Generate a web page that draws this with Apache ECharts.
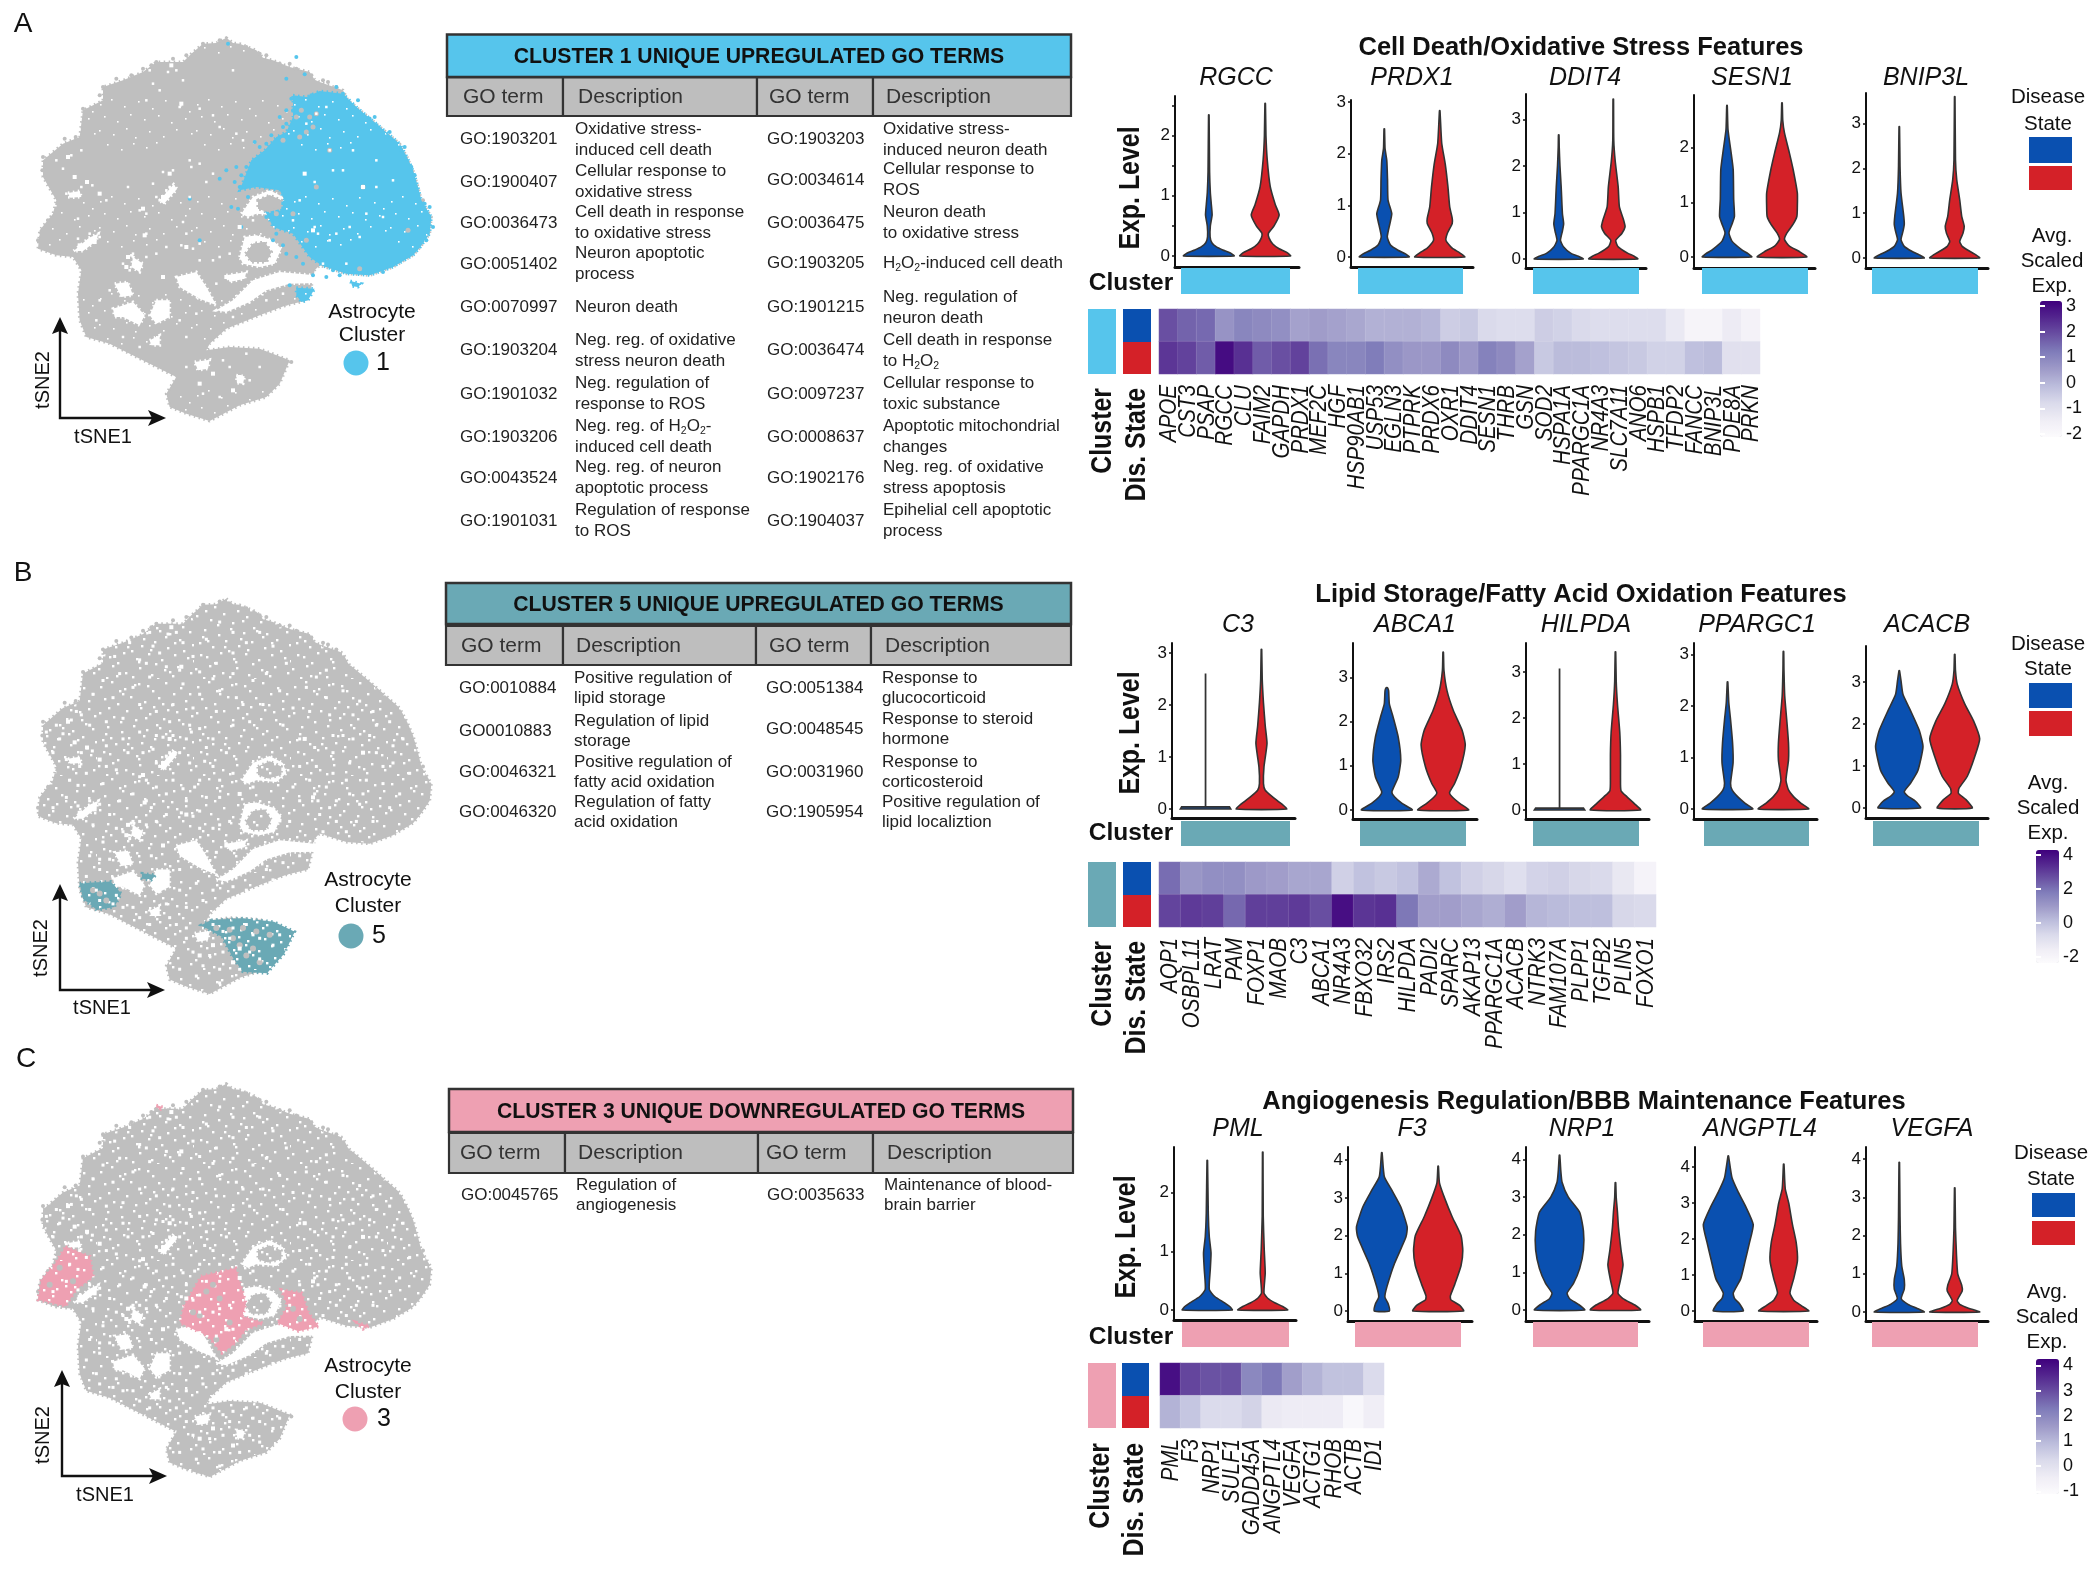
<!DOCTYPE html>
<html><head><meta charset="utf-8">
<style>html,body{margin:0;padding:0;background:#fff}#c{width:2100px;height:1571px}</style>
<script src="https://cdn.jsdelivr.net/npm/echarts@6/dist/echarts.min.js"></script>
</head><body><div id="c"></div>
<script>
/* ---------- colours ---------- */
const CYAN='#56c5ec',TEAL='#6aa9b5',PINK='#eea0b2',GRAY='#bfbfbf',BLUE='#0a50b0',RED='#d42128';
const PURPLES=['#fcfbfd','#efedf5','#dadaeb','#bcbddc','#9e9ac8','#807dba','#6a51a3','#54278f','#3f007d'];

/* ---------- tSNE shape, in tSNE plot units ---------- */
const tsneOutline=[[680,112],[700,128],[720,130],[770,150],[790,172],[820,180],[870,200],[930,215],[945,238],[960,245],[1030,270],[1045,300],[1070,320],[1130,370],[1165,400],[1200,430],[1222,470],[1240,510],[1255,560],[1265,600],[1295,650],[1290,700],[1262,740],[1240,765],[1180,800],[1110,825],[1040,820],[960,795],[945,810],[935,860],[925,900],[860,915],[780,945],[680,985],[630,1030],[620,1050],[690,1040],[780,1045],[870,1080],[840,1150],[800,1190],[720,1215],[630,1262],[560,1240],[510,1220],[500,1180],[530,1130],[470,1100],[420,1075],[330,1030],[260,1010],[240,960],[235,880],[245,810],[220,770],[170,765],[115,745],[120,690],[160,640],[170,600],[130,530],[130,480],[190,430],[240,410],[250,330],[310,300],[310,260],[370,240],[430,215],[470,185],[550,185],[575,160],[610,130],[650,128]];
const tsneHoles=[
 [[725,640],[760,590],[810,570],[850,590],[860,620],[830,645],[770,640],[745,650]],
 [[720,770],[735,710],[770,705],[820,720],[845,745],[825,790],[780,800],[730,790]],
 [[650,930],[700,900],[760,840],[840,815],[945,825],[950,848],[870,850],[800,870],[750,905],[680,935]],
 [[530,830],[590,815],[620,860],[650,915],[600,895],[540,860]],
 [[470,900],[510,900],[510,950],[470,970],[450,945]],
 [[340,925],[400,905],[435,945],[420,975],[370,950],[345,950]],
 [[345,850],[385,845],[400,885],[365,890]],
 [[450,1020],[480,1005],[480,1035],[455,1035]],
 [[585,1085],[630,1078],[625,1105],[595,1110]],
 [[480,600],[522,552],[532,566],[492,612]],
 [[222,752],[268,712],[296,700],[290,722],[250,752]],
 [[205,578],[240,572],[245,590],[212,592]],
 [[710,1125],[735,1128],[730,1150],[712,1148]],
 [[400,770],[430,790],[420,815],[395,800]],
 [[680,825],[740,815],[735,835],[690,845]]
];
const tsneIslands=[
 [[775,600],[810,585],[845,600],[845,625],[805,635],[775,625]],
 [[738,760],[760,730],[795,725],[815,755],[800,785],[755,785]]
];
const edgeDots=[[610,130],[660,120],[740,140],[780,160],[840,190],[890,205],[935,225],[985,245],[1010,260],[430,205],[470,185],[505,190],[350,235],[310,260],[250,325],[195,415],[130,470],[128,510],[145,660],[115,720],[560,165],[585,170],[860,910],[875,1085],[1270,600],[228,410],[300,285],[395,225],[455,195],[520,175],[675,108],[800,165],[870,190],[970,240]];
const specksLarge=[[205,470],[225,530],[262,545],[490,590],[510,520],[435,705],[385,770],[240,735],[285,725],[300,580],[515,195],[545,310],[430,625],[940,690],[915,520],[1090,560],[720,680],[560,740],[680,830],[490,830],[380,800],[600,1150],[640,1120],[720,1130],[700,1170]];
const specksSmall=[[170,480],[190,505],[215,465],[245,450],[245,560],[278,555],[200,580],[235,655],[320,600],[385,560],[440,640],[420,630],[235,715],[270,700],[300,710],[395,765],[440,700],[570,480],[575,500],[490,515],[520,510],[510,560],[480,600],[500,570],[460,550],[470,590],[540,320],[550,240],[530,210],[505,215],[450,210],[440,300],[460,250],[480,270],[600,325],[640,345],[660,380],[700,210],[710,400],[730,420],[600,490],[640,520],[620,545],[570,590],[550,665],[560,700],[600,730],[580,745],[545,735],[500,740],[470,760],[440,770],[400,760],[390,810],[370,790],[600,780],[640,780],[660,770],[690,760],[700,830],[650,850],[760,660],[945,680],[955,700],[945,545],[990,450],[1000,510],[1030,510],[1060,450],[1130,560],[1100,640],[1050,680],[1080,710],[1010,700],[990,720],[1040,790],[970,790],[900,600],[880,660],[1150,650],[1180,540],[1130,480],[950,340],[920,370],[980,320],[560,1100],[670,1080],[740,1060],[780,1100],[690,1100],[610,1180],[660,1190],[750,1140],[330,870],[300,900],[290,960],[370,1010],[420,1040],[540,960],[590,940],[560,1010],[700,950],[800,900],[850,880]];
const specksExtra=[[300,240],[345,280],[390,240],[420,290],[360,330],[310,350],[280,390],[340,400],[400,370],[450,340],[500,310],[580,280],[620,230],[660,180],[700,270],[740,240],[780,210],[820,250],[860,300],[800,330],[760,350],[700,330],[650,300],[600,390],[550,360],[520,420],[470,440],[420,420],[370,460],[320,470],[270,480],[230,440],[180,520],[160,560],[210,640],[260,620],[310,650],[350,610],[400,680],[360,700],[330,740],[280,770],[310,820],[270,860],[260,920],[300,990],[350,975],[400,1010],[450,1060],[510,1040],[560,1070],[610,990],[640,960],[600,840],[660,690],[700,620],[680,560],[640,600],[600,640],[620,690],[520,640],[470,660],[430,560],[540,560],[580,430],[650,440],[700,480],[750,470],[790,420],[840,380],[880,430],[930,440],[980,400],[1030,380],[1080,410],[1120,440],[1170,470],[1210,520],[1180,590],[1230,620],[1200,680],[1170,720],[1120,760],[1070,760],[1010,760],[960,740],[900,700],[870,760],[860,830],[900,860],[820,930],[740,960],[690,1000],[640,1060],[700,1070],[760,1090],[820,1120],[780,1160],[720,1190],[660,1230],[590,1210],[540,1190],[580,1140],[630,1150],[670,1140],[840,1090],[1000,620],[1050,590],[950,600],[900,520],[850,480],[1000,560],[1060,520],[1110,510],[1150,600],[1090,680],[1040,640],[980,660],[930,640],[320,540],[370,520],[420,500],[470,510],[240,600],[200,690],[160,720],[140,500],[510,470],[560,520],[615,585],[660,640],[585,660],[500,680],[455,720],[420,760],[350,780],[300,870],[340,1000],[455,860],[540,900],[500,1000],[530,1060]];
/* fine grain of the point cloud: typed gaps inside one repeating patch */
const grainGaps=[[3,7],[14,2],[27,9],[41,4],[55,11],[68,3],[83,8],[92,14],[7,19],[20,24],[33,17],[47,22],[61,18],[74,25],[88,21],[2,33],[16,37],[29,31],[38,40],[52,34],[66,39],[79,32],[94,36],[10,47],[24,52],[36,46],[49,50],[59,45],[72,51],[85,44],[5,60],[18,64],[31,58],[44,63],[57,59],[70,65],[82,57],[95,62],[12,74],[26,70],[39,76],[51,71],[64,77],[77,72],[90,75],[1,86],[15,83],[28,90],[42,85],[54,92],[67,87],[80,84],[93,90],[9,95],[35,94],[60,96],[75,93],[22,11],[50,6],[76,14],[11,28],[43,28],[70,30],[88,29],[23,42],[62,48],[92,49],[8,54],[46,56],[77,60],[34,68],[20,80],[58,81],[86,68],[37,5],[65,24],[48,38],[30,64],[6,72],[72,89],[19,93],[53,67],[84,97],[96,78],[41,79],[25,14],[81,40],[56,27],[13,58],[68,54]];
const cyanMain=[[880,285],[920,290],[960,272],[1030,280],[1070,320],[1130,370],[1165,400],[1200,430],[1222,470],[1240,510],[1255,560],[1265,600],[1295,650],[1290,700],[1262,740],[1240,765],[1180,800],[1110,825],[1040,820],[965,795],[930,770],[880,700],[820,680],[795,630],[855,600],[840,570],[770,560],[720,570],[755,480],[795,450],[830,410],[860,395],[880,350]];
const cyanSmall=[[890,862],[945,865],[925,900],[905,905],[890,885]];
const cyanSmall2=[[1052,842],[1085,850],[1075,860],[1058,858]];
const cyanDots=[[685,130],[890,170],[860,235],[915,222],[1010,260],[1030,280],[1110,355],[1130,375],[1205,450],[1235,500],[1290,620],[1300,680],[710,500],[680,510],[720,560],[695,620],[715,625],[660,535],[780,440],[815,405],[860,370],[840,350],[880,330],[600,720],[570,595],[725,680],[830,700],[860,760],[870,855],[940,825],[980,830],[740,500],[725,525],[705,545],[745,590],[800,650],[835,650],[820,720],[850,735],[890,770],[910,790],[800,430],[765,425],[850,380],[905,300],[875,295],[860,330],[935,285],[1075,300],[1125,350],[1170,395],[1215,440],[1245,525],[1275,610],[1280,720],[1000,810],[1020,825],[1150,815]];
const grayInCyan=[[950,340],[920,395],[990,450],[1090,560],[1225,690],[950,560],[1080,805],[920,720],[880,640],[830,640],[890,350],[905,330],[930,350],[940,380],[900,410],[850,420]];
const tealPatches=[[[240,940],[333,935],[365,970],[344,1009],[292,1018],[250,985]],[[635,1047],[729,1042],[823,1052],[885,1081],[854,1144],[802,1202],[729,1197],[698,1154],[667,1096],[604,1062]],[[427,911],[469,916],[454,931],[427,926]]];
const tealGaps=[[700,1100],[720,1120],[690,1075],[650,1070],[740,1150],[760,1130],[300,970],[280,960],[320,990],[780,1170],[810,1090],[770,1080],[730,1070]];
const pinkPatches=[[[198,588],[271,617],[281,676],[229,715],[198,763],[115,744],[125,685],[167,637]],[[604,675],[708,651],[739,753],[729,792],[792,812],[739,831],[708,870],[667,900],[625,851],[542,812],[552,763]],[[844,714],[906,724],[927,783],[958,822],[896,836],[833,812],[864,763]],[[1070,810],[1110,820],[1090,830]],[[470,175],[490,180],[480,190]]];
const pinkGaps=[[620,720],[660,740],[600,790],[690,810],[650,860],[180,650],[220,690],[150,700],[880,770],[900,800],[640,700],[580,780]];

/* ---------- violin profiles: [expression level, relative width] ---------- */
const vRGCC=[[[0,1],[.05,.85],[.1,.55],[.15,.3],[.22,.12],[.32,.05],[.5,.06],[.68,.13],[.85,.1],[1.05,.06],[1.4,.03],[2.34,.01]],[[0,1],[.06,.85],[.12,.55],[.2,.3],[.3,.15],[.38,.13],[.5,.35],[.68,.55],[.85,.4],[1.15,.2],[1.6,.08],[2,.03],[2.53,.01]]];
const vPRDX1=[[[0,1],[.06,.85],[.13,.55],[.23,.25],[.39,.12],[.7,.25],[.84,.3],[1.1,.15],[1.5,.13],[1.87,.1],[2.1,.03],[2.48,.01]],[[0,1],[.08,.8],[.17,.5],[.32,.25],[.45,.3],[.65,.5],[.75,.5],[.97,.4],[1.35,.33],[1.8,.22],[2.2,.08],[2.83,.01]]];
const vDDIT4=[[[0,1],[.06,.8],[.12,.5],[.26,.2],[.4,.07],[.6,.15],[.76,.2],[.98,.15],[1.55,.1],[2,.05],[2.4,.02],[2.67,.01]],[[0,1],[.06,.85],[.12,.6],[.26,.2],[.4,.1],[.55,.35],[.69,.48],[.84,.42],[1.12,.25],[1.55,.2],[2.1,.08],[2.55,.02],[3.44,.01]]];
const vSESN1=[[[0,1],[.06,.85],[.13,.6],[.29,.2],[.44,.08],[.6,.2],[.74,.3],[1.05,.27],[1.6,.25],[1.96,.15],[2.33,.04],[2.77,.01]],[[0,1],[.1,.7],[.2,.3],[.32,.1],[.44,.2],[.6,.45],[.74,.6],[.93,.62],[1.17,.62],[1.6,.45],[1.9,.3],[2.27,.1],[2.5,.03],[2.82,.01]]];
const vBNIP3L=[[[0,1],[.07,.8],[.15,.5],[.26,.2],[.41,.07],[.6,.15],[.75,.2],[.93,.18],[1.45,.07],[2.05,.03],[2.93,.01]],[[0,1],[.07,.85],[.15,.6],[.26,.3],[.37,.2],[.55,.33],[.71,.38],[.93,.28],[1.3,.2],[1.75,.08],[2.2,.03],[3.6,.01]]];
const vC3=[[[0,1],[.04,.95],[.045,.003],[2.59,.003]],[[0,1],[.1,.8],[.23,.45],[.36,.15],[.49,.08],[.81,.1],[1.26,.22],[1.6,.15],[2.04,.08],[2.5,.03],[3.07,.01]]];
const vABCA1=[[[0,1],[.15,.6],[.3,.3],[.41,.2],[.75,.45],[1.13,.55],[1.65,.45],[2.1,.25],[2.4,.1],[2.7,.07],[2.77,.02]],[[0,1],[.15,.65],[.3,.35],[.39,.25],[.6,.45],[.98,.7],[1.47,.87],[1.8,.75],[2.25,.4],[2.7,.15],[3.16,.03],[3.57,.01]]];
const vHILPDA=[[[0,1],[.04,.95],[.045,.003],[3.06,.003]],[[0,1],[.14,.75],[.29,.45],[.42,.22],[.7,.2],[1.2,.2],[1.7,.17],[2.3,.08],[2.8,.03],[3.44,.01]]];
const vPPARGC1=[[[0,1],[.11,.7],[.24,.4],[.37,.18],[.5,.12],[.9,.22],[1.28,.2],[1.73,.12],[2.06,.05],[2.47,.01]],[[0,1],[.11,.7],[.24,.4],[.37,.2],[.56,.1],[.95,.2],[1.28,.2],[1.73,.13],[2.2,.05],[2.7,.02],[3.06,.01]]];
const vACACB=[[[0,.85],[.16,.65],[.28,.35],[.39,.2],[.59,.45],[.9,.75],[1.46,.95],[1.85,.8],[2.32,.45],[2.7,.15],[3.03,.07],[3.27,.01]],[[0,.7],[.2,.45],[.35,.15],[.47,.17],[.75,.5],[1.22,.8],[1.65,1],[2.08,.75],[2.48,.4],[2.95,.1],[3.27,.03],[3.66,.01]]];
const vPML=[[[0,1],[.06,.9],[.12,.7],[.23,.3],[.35,.08],[.69,.12],[.97,.15],[1.25,.08],[1.65,.04],[2.55,.01]],[[0,1],[.06,.8],[.12,.5],[.2,.2],[.29,.05],[.63,.1],[1.03,.06],[1.6,.02],[2.69,.01]]];
const vF3=[[[0,.3],[.19,.25],[.37,.12],[.64,.2],[1.26,.5],[1.96,.95],[2.23,1],[2.76,.75],[3.2,.4],[3.56,.1],[4.2,.01]],[[0,1],[.15,.85],[.3,.5],[.4,.48],[.7,.65],[1.2,.9],[1.6,.97],[2,.9],[2.5,.55],[3,.25],[3.4,.05],[3.84,.01]]];
const vNRP1=[[[0,1],[.15,.75],[.3,.4],[.45,.3],[.7,.55],[1.1,.8],[1.6,.95],[2.1,.95],[2.6,.8],[3,.35],[3.4,.1],[3.7,.05],[4.12,.01]],[[0,1],[.12,.8],[.3,.3],[.45,.1],[.8,.2],[1.2,.3],[1.6,.22],[2.2,.12],[2.6,.08],[3,.03],[3.39,.01]]];
const vANGPTL4=[[[0,.6],[.2,.45],[.35,.25],[.5,.2],[.9,.5],[1.4,.68],[1.9,.85],[2.4,1],[2.9,.7],[3.3,.4],[3.7,.15],[4.31,.01]],[[0,1],[.15,.7],[.3,.4],[.5,.25],[.9,.4],[1.4,.55],[1.9,.5],[2.4,.35],[3,.2],[3.4,.06],[4.08,.01]]];
const vVEGFA=[[[0,1],[.1,.7],[.2,.35],[.35,.08],[.6,.2],[.85,.2],[1.2,.1],[1.8,.05],[2.5,.03],[3.92,.01]],[[0,1],[.1,.55],[.2,.2],[.3,.1],[.55,.3],[.7,.28],[1,.12],[1.5,.07],[2.2,.03],[3.25,.01]]];

/* ---------- heatmaps ---------- */
const genes1=['APOE','CST3','PSAP','RGCC','CLU','FAIM2','GAPDH','PRDX1','MEF2C','HGF','HSP90AB1','USP53','EGLN3','PTPRK','PRDX6','OXR1','DDIT4','SESN1','THRB','GSN','SOD2','HSPA1A','PPARGC1A','NR4A3','SLC7A11','ANO6','HSPB1','TFDP2','FANCC','BNIP3L','PDE8A','PRKN'];
const heat1Top=[1.9,1.6,1.5,.7,1,.9,.8,.4,.5,.4,.3,.1,.1,.1,0,-.5,-.4,-.8,-.9,-.9,-.5,-.6,-.8,-.9,-.9,-.9,-.9,-1.3,-1.8,-1.8,-1.4,-1.7];
const heat1Bot=[2.3,2.1,1.7,3,2.4,1.7,1.9,2.1,1.4,1,1,1.2,.8,.6,.6,.9,.6,1.1,.9,.4,-.4,-.1,-.1,-.2,-.3,-.4,-.6,-.6,-.2,-.1,-1,-1];
const genes5=['AQP1','OSBPL11','LRAT','PAM','FOXP1','MAOB','C3','ABCA1','NR4A3','FBXO32','IRS2','HILPDA','PADI2','SPARC','AKAP13','PPARGC1A','ACACB','NTRK3','FAM107A','PLPP1','TGFB2','PLIN5','FOXO1'];
const heat5Top=[2.1,1.1,1.3,1.3,1,.9,.7,.7,-.4,0,-.2,0,.6,0,-.4,-.6,-.9,-.5,-.4,-.6,-.7,-1.3,-1.9];
const heat5Bot=[2.9,3.1,3,2.2,3,3,3.1,2.7,4,3.2,3.3,1.9,.9,.9,.7,.5,.9,.3,.2,.1,.1,-.6,-.7];
const genes3=['PML','F3','NRP1','SULF1','GADD45A','ANGPTL4','VEGFA','ACTG1','RHOB','ACTB','ID1'];
const heat3Top=[4,3.1,2.9,2.9,2,2.3,1.5,1.1,.8,.8,.2];
const heat3Bot=[1.1,.7,.2,.2,.4,-.3,-.4,-.4,-.4,-.9,-.5];
const diseaseStates=['State 1','State 2'];

/* ---------- GO term tables ---------- */
const go1=[['GO:1903201','Oxidative stress-\ninduced cell death','GO:1903203','Oxidative stress-\ninduced neuron death'],['GO:1900407','Cellular response to\noxidative stress','GO:0034614','Cellular response to\nROS'],['GO:0036473','Cell death in response\nto oxidative stress','GO:0036475','Neuron death\nto oxidative stress'],['GO:0051402','Neuron apoptotic\nprocess','GO:1903205','H{s|2}O{s|2}-induced cell death'],['GO:0070997','Neuron death','GO:1901215','Neg. regulation of\nneuron death'],['GO:1903204','Neg. reg. of oxidative\nstress neuron death','GO:0036474','Cell death in response\nto H{s|2}O{s|2}'],['GO:1901032','Neg. regulation of\nresponse to ROS','GO:0097237','Cellular response to\ntoxic substance'],['GO:1903206','Neg. reg. of H{s|2}O{s|2}-\ninduced cell death','GO:0008637','Apoptotic mitochondrial\nchanges'],['GO:0043524','Neg. reg. of neuron\napoptotic process','GO:1902176','Neg. reg. of oxidative\nstress apoptosis'],['GO:1901031','Regulation of response\nto ROS','GO:1904037','Epihelial cell apoptotic\nprocess']];
const go5=[['GO:0010884','Positive regulation of\nlipid storage','GO:0051384','Response to\nglucocorticoid'],['GO0010883','Regulation of lipid\nstorage','GO:0048545','Response to steroid\nhormone'],['GO:0046321','Positive regulation of\nfatty acid oxidation','GO:0031960','Response to\ncorticosteroid'],['GO:0046320','Regulation of fatty\nacid oxidation','GO:1905954','Positive regulation of\nlipid localiztion']];
const go3=[['GO:0045765','Regulation of\nangiogenesis','GO:0035633','Maintenance of blood-\nbrain barrier']];

/* ---------- builders ---------- */
const grid=[],xAxis=[],yAxis=[],series=[],visualMap=[],G=[];
const FONT='Liberation Sans';
function T(x,y,text,o={}){
  G.push({type:'text',x,y,rotation:o.rot||0,scaleX:o.sx||1,z:50,silent:true,style:{text,fontFamily:o.fam||FONT,fontSize:o.size||16,fontWeight:o.weight||'normal',fontStyle:o.italic?'italic':'normal',fill:o.fill||'#111',textAlign:o.align||'center',textVerticalAlign:'middle',lineHeight:o.lh,rich:o.rich}});
}
function R(x0,y0,x1,y1,fill,stroke,lw){G.push({type:'rect',z:40,silent:true,shape:{x:x0,y:y0,width:x1-x0,height:y1-y0},style:{fill,stroke:stroke||null,lineWidth:lw||0}});}
function addGrid(l,t,r,b,x,y){
  const i=grid.length;
  grid.push({left:l,top:t,width:r-l,height:b-t,containLabel:false,show:false});
  xAxis.push(Object.assign({gridIndex:i},x));yAxis.push(Object.assign({gridIndex:i},y));
  return i;
}
const hidden=(min,max,inv)=>({type:'value',show:false,min,max,inverse:!!inv,splitLine:{show:false}});

/* texture tiles for the point clouds */
function tile(color,size,count){
  const c=document.createElement('canvas');c.width=c.height=97;
  const x=c.getContext('2d');x.fillStyle=color;x.fillRect(0,0,97,97);x.fillStyle='#fff';
  grainGaps.slice(0,count).forEach(p=>x.fillRect(p[0],p[1],size,size));
  return {image:c,repeat:'repeat'};
}
/* tSNE */
function polySeries(g,polys,color,z,fill){
  series.push({type:'custom',xAxisIndex:g,yAxisIndex:g,z,silent:true,clip:false,animation:false,data:polys.map(p=>p[0]),
    renderItem:(params,api)=>({type:'polygon',shape:{points:polys[params.dataIndex].map(p=>api.coord(p))},style:{fill:fill||color,stroke:color,lineWidth:3,lineDash:[1.5,3.5]}})});
}
function dots(g,data,color,size,z,symbol){series.push({type:'scatter',xAxisIndex:g,yAxisIndex:g,z,silent:true,animation:false,symbol:symbol||'circle',symbolSize:size,itemStyle:{color,opacity:1},data});}
function tsne(rect,extra,cfg){
  const g=addGrid(rect[0],rect[1],rect[2],rect[3],hidden(115,1300),hidden(110,1265,true));
  const baseFill=extra?tile(GRAY,2.4,90):tile(GRAY,1.6,28);
  polySeries(g,[tsneOutline],GRAY,2,baseFill);
  dots(g,edgeDots,GRAY,4,2);
  polySeries(g,tsneHoles,'#fff',3);
  polySeries(g,tsneIslands,GRAY,4,baseFill);
  cfg(g);
  dots(g,specksLarge,'#fff',4,7,'rect');
  dots(g,specksSmall,'#fff',extra?3:2.5,7,'rect');
  if(extra)dots(g,specksExtra,'#fff',3,7,'rect');
}
/* Violin */
function violin(box,profiles,tickVals,labelVals,stripBox,clusterColor,name,nameX,nameY){
  const [l,r,t,b,y0,unit]=box;
  const g=addGrid(l,t,r,b,{type:'value',min:.4,max:2.6,axisLabel:{show:false},axisTick:{show:false},splitLine:{show:false},axisLine:{show:true,onZero:false,lineStyle:{color:'#111',width:3}}},
    {type:'value',min:(y0-b)/unit,max:(y0-t)/unit,splitLine:{show:false},axisLine:{show:true,onZero:false,lineStyle:{color:'#111',width:2}},
     axisTick:{show:true,length:3,lineStyle:{color:'#111',width:1.5},customValues:tickVals},
     axisLabel:{show:true,margin:5,fontFamily:FONT,fontSize:17,color:'#111',customValues:labelVals,formatter:v=>String(Math.round(v))}});
  profiles.forEach((prof,k)=>{
    const flat=prof.some(q=>q[1]<.005);
    series.push({type:'custom',xAxisIndex:g,yAxisIndex:g,z:3,silent:true,clip:false,animation:false,data:[[k+1,0]],
      renderItem:(p,api)=>{
        const c=k+1,right=prof.map(q=>api.coord([c+q[1]*.45,q[0]])),left=prof.map(q=>api.coord([c-q[1]*.45,q[0]])).reverse();
        return {type:'polygon',shape:{points:right.concat(left),smooth:flat?0:.18},style:{fill:k?RED:BLUE,stroke:'#333',lineWidth:1.6}};
      }});
  });
  strip(stripBox,[clusterColor,clusterColor],false);
  T(nameX,nameY,name,{size:25,italic:true});
}
/* colour strips */
function strip(box,colors,vertical){
  const n=colors.length,g=addGrid(box[0],box[1],box[2],box[3],hidden(0,vertical?1:n),hidden(0,vertical?n:1,true));
  series.push({type:'custom',xAxisIndex:g,yAxisIndex:g,z:2,silent:true,animation:false,data:colors.map((c,i)=>[i,i+1]),
    renderItem:(p,api)=>{const i=p.dataIndex;
      const a=vertical?api.coord([0,i]):api.coord([i,0]),e=vertical?api.coord([1,i+1]):api.coord([i+1,1]);
      const x0=Math.round(a[0]),y0=Math.round(a[1]),x1=Math.round(e[0]),y1=Math.round(e[1]);
      return {type:'rect',shape:{x:x0,y:y0,width:x1-x0,height:y1-y0},style:{fill:colors[i]}};}});
}
/* Heatmap */
function heat(box,genes,top,bot,vm,cb,vals){
  const g=addGrid(box[0],box[1],box[2],box[3],{type:'category',data:genes,axisLine:{show:false},axisTick:{show:false},splitLine:{show:false},axisLabel:{show:false}},
    {type:'category',data:diseaseStates,inverse:true,show:false});
  const data=[];genes.forEach((_,i)=>{data.push([i,0,top[i]]);data.push([i,1,bot[i]]);});
  const si=series.length;
  series.push({type:'heatmap',xAxisIndex:g,yAxisIndex:g,z:2,silent:true,animation:false,data,itemStyle:{borderWidth:.5,borderColor:'rgba(255,255,255,.18)'}});
  visualMap.push({type:'continuous',seriesIndex:si,dimension:2,min:vm[0],max:vm[1],left:cb[0],top:cb[1],itemWidth:cb[2]-cb[0],itemHeight:cb[3]-cb[1],padding:0,text:['',''],showLabel:false,calculable:false,hoverLink:false,silent:true,inRange:{color:PURPLES},textStyle:{fontSize:0},z:4});
  const w=(box[2]-box[0])/genes.length;
  genes.forEach((name,i)=>T(box[0]+(i+.5)*w+1,box[3]+11,name,{size:24,italic:true,rot:Math.PI/2,align:'right',sx:.86}));
  const ax=(pos,lab)=>({type:'value',position:pos,min:vm[0],max:vm[1],z:9,splitLine:{show:false},axisLine:{show:false},
      axisTick:{show:true,inside:true,length:5,lineStyle:{color:'#fff',width:2},customValues:vals},
      axisLabel:{show:lab,margin:4,fontFamily:FONT,fontSize:18,color:'#111',customValues:vals,formatter:v=>String(Math.round(v))}});
  addGrid(cb[0],cb[1],cb[2],cb[3],hidden(0,1),ax('right',true));
  addGrid(cb[0],cb[1],cb[2],cb[3],hidden(0,1),ax('left',false));
}
/* Tables */
function table(t,title,color,rows,rowY,rowYR,lh){
  R(t.l,t.top,t.r,t.hb,color,'#333',2.5);
  T((t.l+t.r)/2,t.ht,title,{size:21.2,weight:'bold',fill:'#111'});
  const s=[t.l,t.s1,t.s2,t.s3,t.r];
  for(let i=0;i<4;i++)R(s[i],t.gt,s[i+1],t.gb,'#bebebe','#333',2.2);
  ['GO term','Description','GO term','Description'].forEach((h,i)=>T(t.h[i],t.gy,h,{size:21,align:'left',fill:'#333'}));
  const rich={s:{fontSize:10.5,fontFamily:FONT,verticalAlign:'bottom',fill:'#222'}};
  rows.forEach((r,i)=>{
    T(t.c[0],rowY[i],r[0],{size:17,align:'left',fill:'#222'});
    T(t.c[1],rowY[i],r[1],{size:17,align:'left',fill:'#222',lh,rich});
    T(t.c[2],rowYR[i],r[2],{size:17,align:'left',fill:'#222'});
    T(t.c[3],rowYR[i],r[3],{size:17,align:'left',fill:'#222',lh,rich});
  });
}
function arrows(o,tipY,tipX,ty,tx){
  G.push({type:'polyline',z:40,silent:true,shape:{points:[[o[0],tipY+8],[o[0],o[1]],[tipX-8,o[1]]]},style:{stroke:'#111',lineWidth:2.4,fill:null}});
  G.push({type:'polygon',z:40,silent:true,shape:{points:[[o[0],tipY],[o[0]-8,tipY+17],[o[0],tipY+14],[o[0]+8,tipY+17]]},style:{fill:'#111'}});
  G.push({type:'polygon',z:40,silent:true,shape:{points:[[tipX,o[1]],[tipX-18,o[1]-8],[tipX-14,o[1]],[tipX-18,o[1]+8]]},style:{fill:'#111'}});
  T(ty[0],ty[1],'tSNE2',{size:20,rot:Math.PI/2});
  T(tx[0],tx[1],'tSNE1',{size:20});
}
function clusterKey(x,y1,y2,cx,cy,tx,n,col){
  T(x,y1,'Astrocyte',{size:21});T(x,y2,'Cluster',{size:21});
  G.push({type:'circle',z:40,silent:true,shape:{cx,cy,r:12.5},style:{fill:col}});
  T(tx,cy,n,{size:25});
}
function sideLegend(cx,yD,yS,box,cxA,yA){
  T(cx,yD,'Disease',{size:20.5});T(cx,yS,'State',{size:20.5});
  R(box[0],box[1],box[2],box[3],BLUE);R(box[0],box[4],box[2],box[5],RED);
  T(cxA,yA[0],'Avg.',{size:20.5});T(cxA,yA[1],'Scaled',{size:20.5});T(cxA,yA[2],'Exp.',{size:20.5});
}
function sideLabels(xExp,yExp,yClus,xC,xD,yTop){
  const bold={size:30,weight:'bold',rot:Math.PI/2,sx:.83};
  T(xExp,yExp,'Exp. Level',bold);
  T(1131,yClus,'Cluster',{size:24.5,weight:'bold'});
  T(xC,yTop,'Cluster',Object.assign({align:'right'},bold));
  T(xD,yTop,'Dis. State',Object.assign({align:'right'},bold));
}

/* ---------- Panel A ---------- */
T(23,24,'A',{size:28});T(23,573,'B',{size:28});T(26,1059,'C',{size:28});
tsne([38,37,433,422],false,g=>{
  polySeries(g,[cyanMain,cyanSmall,cyanSmall2],CYAN,5,tile(CYAN,1.6,28));
  dots(g,cyanDots,CYAN,4,5);
  polySeries(g,[tsneIslands[0],tsneIslands[1]],GRAY,6);
  dots(g,grayInCyan,GRAY,5,6);
});
arrows([60,418],317,166,[43,380],[103,437]);
clusterKey(372,312,335,356,363,383,'1',CYAN);
table({l:447,r:1071,top:34.5,hb:77,ht:57,gt:77.5,gb:116,gy:97,s1:563,s2:757,s3:873,h:[463,578,769,886],c:[460,575,767,883]},'CLUSTER 1 UNIQUE UPREGULATED GO TERMS',CYAN,go1,[139.5,182,223,264,307.5,350.5,394,437,478,521],[139.5,180,223,263,307.5,350.5,394,437,478,521],20.7);
T(1581,48,'Cell Death/Oxidative Stress Features',{size:25.5,weight:'bold'});
violin([1175,1299,96,267,256,60.3],vRGCC,[0,.5,1,1.5,2,2.5],[0,1,2],[1181,268,1290,294],CYAN,'RGCC',1236,78);
violin([1351,1473,100,267,257,51.7],vPRDX1,[0,1,2,3],[0,1,2,3],[1358,268,1463,294],CYAN,'PRDX1',1412,78);
violin([1526,1646,94,268,259,46.5],vDDIT4,[0,1,2,3],[0,1,2,3],[1533,268,1639,294],CYAN,'DDIT4',1585,78);
violin([1694,1815,95,268,257,54.7],vSESN1,[0,1,2],[0,1,2],[1702,268,1808,294],CYAN,'SESN1',1752,78);
violin([1866,1988,93,268,258,44.8],vBNIP3L,[0,1,2,3],[0,1,2,3],[1872,268,1978,294],CYAN,'BNIP3L',1926,78);
strip([1088,309,1116,374],[CYAN],true);strip([1123,309,1151,374],[BLUE,RED],true);
heat([1159,309,1760,374],genes1,heat1Top,heat1Bot,[-2.12,3.2],[2040,301,2062,437],[3,2,1,0,-1,-2]);
sideLabels(1131,188,283,1103,1137,388);
sideLegend(2048,97,124,[2029,137,2072,163,166,190],2052,[236,261,286]);

/* ---------- Panel B ---------- */
tsne([38,598,433,995],true,g=>{
  polySeries(g,tealPatches,TEAL,5,tile(TEAL,2.4,90));
  dots(g,tealGaps,GRAY,6,6);
});
arrows([60,990],884,165,[41,948],[102,1008]);
clusterKey(368,880,906,351,936,379,'5',TEAL);
table({l:446,r:1071,top:583,hb:624,ht:605,gt:626,gb:665,gy:646,s1:563,s2:756,s3:871,h:[461,576,769,885],c:[459,574,766,882]},'CLUSTER 5 UNIQUE UPREGULATED GO TERMS',TEAL,go5,[688,731,772,812],[688,729,772,812],20);
T(1581,595,'Lipid Storage/Fatty Acid Oxidation Features',{size:25.5,weight:'bold'});
violin([1172,1295,643,818,809,52],vC3,[0,1,2,3],[0,1,2,3],[1181,821,1290,846],TEAL,'C3',1238,625);
violin([1353,1477,643,819,810,44.2],vABCA1,[0,1,2,3],[0,1,2,3],[1360,821,1466,846],TEAL,'ABCA1',1415,625);
violin([1526,1649,643,819,810,46],vHILPDA,[0,1,2,3],[0,1,2,3],[1533,821,1639,846],TEAL,'HILPDA',1586,625);
violin([1694,1817,643,819,809,51.5],vPPARGC1,[0,1,2,3],[0,1,2,3],[1704,821,1809,846],TEAL,'PPARGC1',1757,625);
violin([1866,1988,646,818,808,42],vACACB,[0,1,2,3],[0,1,2,3],[1873,821,1979,846],TEAL,'ACACB',1927,625);
strip([1088,862,1116,927],[TEAL],true);strip([1123,862,1151,927],[BLUE,RED],true);
heat([1159,862,1656,927],genes5,heat5Top,heat5Bot,[-2.35,4.3],[2036,850,2059,963],[4,2,0,-2]);
sideLabels(1131,733,833,1103,1137,941);
sideLegend(2048,644,669,[2029,683,2072,708,711,736],2048,[783,808,833]);

/* ---------- Panel C ---------- */
tsne([38,1083,433,1478],true,g=>{
  polySeries(g,pinkPatches,PINK,5,tile(PINK,2.4,90));
  dots(g,pinkGaps,GRAY,6,6);
});
arrows([62,1476],1370,167,[43,1435],[105,1495]);
clusterKey(368,1366,1392,355,1419,384,'3',PINK);
table({l:449,r:1073,top:1089,hb:1132,ht:1112,gt:1133,gb:1173,gy:1153,s1:565,s2:758,s3:873,h:[460,578,766,887],c:[461,576,767,884]},'CLUSTER 3 UNIQUE DOWNREGULATED GO TERMS',PINK,go3,[1195],[1195],20);
T(1584,1102,'Angiogenesis Regulation/BBB Maintenance Features',{size:25.5,weight:'bold'});
violin([1174,1296,1147,1320,1310,58.7],vPML,[0,1,2],[0,1,2],[1182,1322,1289,1347],PINK,'PML',1238,1129);
violin([1348,1472,1147,1321,1311,37.7],vF3,[0,1,2,3,4],[0,1,2,3,4],[1355,1322,1461,1347],PINK,'F3',1412,1129);
violin([1526,1649,1147,1321,1310,37.6],vNRP1,[0,1,2,3,4],[0,1,2,3,4],[1533,1322,1638,1347],PINK,'NRP1',1582,1129);
violin([1695,1817,1147,1321,1311,36],vANGPTL4,[0,1,2,3,4],[0,1,2,3,4],[1703,1322,1809,1347],PINK,'ANGPTL4',1760,1129);
violin([1866,1988,1147,1321,1312,38.2],vVEGFA,[0,1,2,3,4],[0,1,2,3,4],[1872,1322,1978,1347],PINK,'VEGFA',1932,1129);
strip([1088,1363,1116,1428],[PINK],true);strip([1122,1363,1149,1428],[BLUE,RED],true);
heat([1160,1363,1384,1428],genes3,heat3Top,heat3Bot,[-1.1,4.25],[2036,1359,2059,1494],[4,3,2,1,0,-1]);
sideLabels(1127,1237,1337,1101,1135,1443);
sideLegend(2051,1153,1179,[2032,1193,2075,1217,1221,1245],2047,[1292,1317,1342]);

const chart=echarts.init(document.getElementById('c'),null,{renderer:'canvas'});
chart.setOption({animation:false,backgroundColor:'#fff',grid,xAxis,yAxis,series,visualMap,graphic:{elements:G}});
</script></body></html>
